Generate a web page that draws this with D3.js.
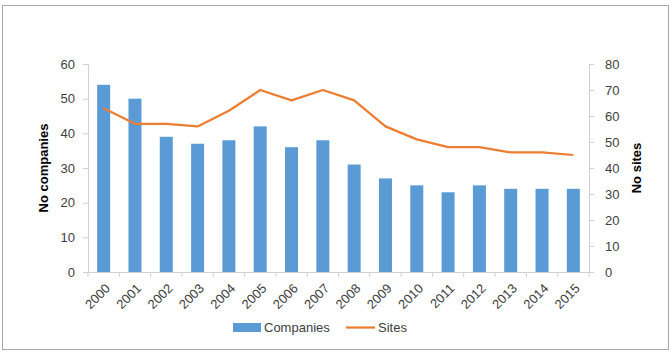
<!DOCTYPE html>
<html>
<head>
<meta charset="utf-8">
<script src="https://cdn.jsdelivr.net/npm/d3@7"></script>
<style>
  body { margin: 0; background: #fff; }
  svg text { font-family: "Liberation Sans", "DejaVu Sans", sans-serif; fill: #404040; }
</style>
</head>
<body>
<div id="chart"></div>
<script>
const years = ["2000","2001","2002","2003","2004","2005","2006","2007","2008","2009","2010","2011","2012","2013","2014","2015"];
const companies = [54, 50, 39, 37, 38, 42, 36, 38, 31, 27, 25, 23, 25, 24, 24, 24];
const sites = [63, 57, 57, 56, 62, 70, 66, 70, 66, 56, 51, 48, 48, 46, 46, 45];
const leftTicks = [0, 10, 20, 30, 40, 50, 60];
const rightTicks = [0, 10, 20, 30, 40, 50, 60, 70, 80];

const width = 672, height = 354;
const plotLeft = 88, plotRight = 589, plotTop = 64, plotBottom = 272;

const svg = d3.select("#chart").append("svg")
  .attr("width", width)
  .attr("height", height);

// frame
svg.append("rect")
  .attr("x", 2.5).attr("y", 5.5)
  .attr("width", 666).attr("height", 344)
  .attr("fill", "none").attr("stroke", "#a6a6a6");

const x = d3.scaleBand().domain(years).range([plotLeft, plotRight]);
const yL = d3.scaleLinear().domain([0, 60]).range([plotBottom, plotTop]);
const yR = d3.scaleLinear().domain([0, 80]).range([plotBottom, plotTop]);

// bars
svg.append("g").selectAll("rect")
  .data(companies)
  .enter().append("rect")
  .attr("x", (d, i) => x(years[i]) + x.bandwidth() / 2 - 6.5)
  .attr("width", 13)
  .attr("y", d => yL(d))
  .attr("height", d => yL(0) - yL(d))
  .attr("fill", "#5b9bd5");

// axes
const axisColor = "#d0d0d0";
function styleAxis(g) {
  g.selectAll(".domain").attr("stroke", axisColor);
  g.selectAll(".tick line").attr("stroke", axisColor);
  g.selectAll(".tick text").attr("fill", "#404040").style("font-size", "13px")
    .style("font-family", "Liberation Sans, DejaVu Sans, sans-serif");
}

svg.append("g")
  .attr("transform", `translate(${plotLeft},0)`)
  .call(d3.axisLeft(yL).tickValues(leftTicks).tickSize(5).tickPadding(8).tickSizeOuter(0))
  .call(styleAxis);

svg.append("g")
  .attr("transform", `translate(${plotRight},0)`)
  .call(d3.axisRight(yR).tickValues(rightTicks).tickSize(5).tickPadding(11).tickSizeOuter(0))
  .call(styleAxis);

const xAxis = svg.append("g")
  .attr("transform", `translate(0,${plotBottom})`)
  .call(d3.axisBottom(x).tickSize(0).tickPadding(0));
xAxis.call(styleAxis);
xAxis.selectAll(".tick text")
  .attr("text-anchor", "end")
  .attr("dy", "0.35em")
  .attr("transform", "translate(4,14) rotate(-45)");
// tick marks at band boundaries
xAxis.append("g").selectAll("line")
  .data(years.concat(["end"]))
  .enter().append("line")
  .attr("x1", (d, i) => plotLeft + i * x.step())
  .attr("x2", (d, i) => plotLeft + i * x.step())
  .attr("y1", 0).attr("y2", 5)
  .attr("stroke", axisColor);

// sites line
const line = d3.line()
  .x((d, i) => x(years[i]) + x.bandwidth() / 2)
  .y(d => yR(d));
svg.append("path")
  .datum(sites)
  .attr("d", line)
  .attr("fill", "none")
  .attr("stroke", "#ed7d31")
  .attr("stroke-width", 2.25)
  .attr("stroke-linejoin", "round");

// axis titles
svg.append("text")
  .attr("transform", `translate(48,168) rotate(-90)`)
  .attr("text-anchor", "middle")
  .style("font-size", "13px").style("font-weight", "bold")
  .style("fill", "#000")
  .text("No companies");

svg.append("text")
  .attr("transform", `translate(641,168) rotate(-90)`)
  .attr("text-anchor", "middle")
  .style("font-size", "13px").style("font-weight", "bold")
  .style("fill", "#000")
  .text("No sites");

// legend
const lg = svg.append("g");
lg.append("rect")
  .attr("x", 233).attr("y", 323).attr("width", 28).attr("height", 9)
  .attr("fill", "#5b9bd5");
lg.append("text")
  .attr("x", 264).attr("y", 332)
  .style("font-size", "13px")
  .text("Companies");
lg.append("line")
  .attr("x1", 346).attr("x2", 375).attr("y1", 327.5).attr("y2", 327.5)
  .attr("stroke", "#ed7d31").attr("stroke-width", 2.25);
lg.append("text")
  .attr("x", 378).attr("y", 332)
  .style("font-size", "13px")
  .text("Sites");
</script>
</body>
</html>
